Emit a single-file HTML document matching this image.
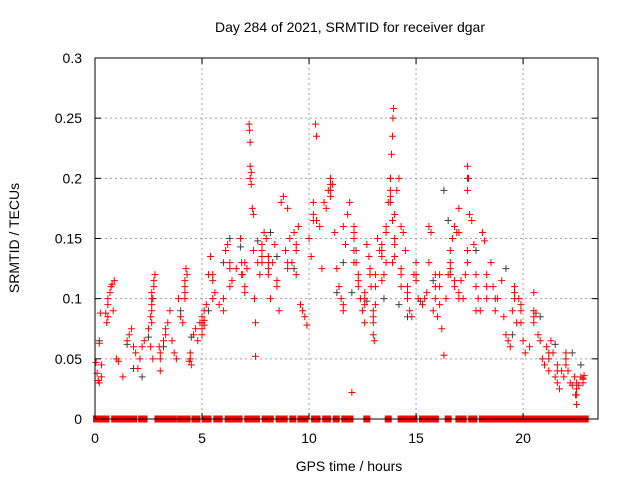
<!DOCTYPE html>
<html><head><meta charset="utf-8"><style>
body{margin:0;background:#fff;}
svg{display:block;font-family:"Liberation Sans",sans-serif;}
</style></head><body>
<svg id="chart" width="640" height="480">
<text x="350" y="32" font-size="14" text-anchor="middle">Day 284 of 2021, SRMTID for receiver dgar</text>
<text transform="translate(19,238) rotate(-90)" font-size="14" text-anchor="middle">SRMTID / TECUs</text>
<text x="349" y="471" font-size="14" text-anchor="middle">GPS time / hours</text>
<g id="grid"></g><g id="marks"></g><g id="axes"></g>
</svg>
<script>
const xTicks=[0,5,10,15,20];
const yTicks=[0,0.05,0.1,0.15,0.2,0.25,0.3];
const yTickLabels=["0","0.05","0.1","0.15","0.2","0.25","0.3"];
const zeroRunStarts=[0.07,0.92,2.18,2.94,4.0,4.3,4.67,5.15,5.69,6.22,7.14,7.95,8.6,9.24,9.62,10.26,10.78,11.27,11.67,12.7,13.7,14.3,15.3,16.5,17.0,17.2,17.6,18.1];
const zeroRunEnds=[0.51,1.80,2.29,3.66,4.0,4.3,4.76,5.28,5.8,6.73,7.54,8.19,8.84,9.24,9.81,10.37,10.86,11.27,11.91,12.7,13.7,14.9,15.9,16.5,17.0,17.2,17.7,22.9];
const redHours=[0.05,0.1,0.15,0.2,0.25,0.2,0.5,0.55,0.6,0.7,0.8,0.85,0.9,1.0,1.1,1.3,1.5,1.6,1.7,1.8,1.9,2.0,2.1,2.2,2.3,2.5,2.6,2.65,2.7,2.75,2.8,2.6,2.7,3.0,3.2,3.3,3.4,3.5,3.6,3.7,3.8,3.9,4.0,4.1,4.2,4.3,4.4,4.5,4.6,4.7,4.8,4.9,5.0,5.1,5.2,5.3,5.4,5.5,5.6,5.8,6.0,6.1,6.2,6.3,6.4,6.6,6.8,6.9,7.0,7.1,7.2,7.22,7.25,7.3,7.3,7.35,7.4,7.4,7.45,7.5,7.5,7.6,7.7,7.8,7.9,8.0,8.1,8.2,8.3,8.4,8.5,8.6,8.7,8.8,8.9,9.0,9.1,9.2,9.3,9.4,9.5,9.6,9.7,9.8,9.9,10.0,10.1,10.2,10.3,10.35,10.5,10.6,10.7,10.8,10.9,11.0,11.1,11.2,11.3,11.4,11.5,11.6,11.7,11.8,11.9,12.0,12.1,12.2,12.3,12.4,12.5,12.6,12.7,12.8,12.9,13.0,13.05,13.1,13.2,13.3,13.4,13.5,13.6,13.7,13.8,13.85,13.9,13.92,13.95,14.0,14.1,14.2,14.3,14.4,14.5,14.6,14.7,14.8,14.9,15.0,15.1,15.3,15.4,15.5,15.6,15.7,15.8,15.9,16.0,16.1,16.2,16.3,16.4,16.5,16.6,16.7,16.8,16.9,17.0,17.1,17.2,17.3,17.4,17.45,17.5,17.6,17.7,17.8,17.9,18.0,18.1,18.2,18.3,18.5,18.6,18.7,18.8,19.0,19.1,19.2,19.3,19.4,19.5,19.6,19.7,19.8,19.9,20.0,20.1,20.3,20.5,20.6,20.7,20.8,20.9,21.0,21.1,21.2,21.3,21.4,21.5,21.6,21.7,21.8,21.9,22.0,22.1,22.2,22.3,22.4,22.45,22.5,22.6,22.7,22.8,22.85,
0.3,0.3,0.6,0.6,0.75,2.65,2.65,2.65,2.65,2.75,3.05,3.05,3.05,3.3,4.2,4.2,4.2,4.25,4.45,4.45,5.0,5.0,5.0,5.1,5.1,5.5,5.5,6.0,6.3,6.3,6.85,6.85,7.25,7.25,7.0,7.0,7.8,7.8,7.8,8.1,8.1,8.1,8.5,9.0,9.0,9.4,9.4,10.2,10.2,10.35,11.0,11.0,11.0,11.6,11.6,12.1,12.1,12.1,12.1,12.3,12.3,12.6,12.6,12.6,12.85,12.85,13.0,13.0,13.0,13.1,13.1,13.4,13.4,13.4,13.6,13.6,13.8,13.8,13.8,13.8,13.9,13.9,14.0,14.0,14.0,14.3,14.3,14.3,14.6,14.6,15.0,15.0,15.6,15.9,15.9,16.1,16.1,16.6,16.6,16.6,16.8,16.8,17.0,17.0,17.0,17.4,17.4,17.4,17.8,17.8,18.3,18.3,19.6,19.6,19.9,19.9,20.5,20.5,20.5,21.2,21.2,21.6,21.6,22.0,22.0,22.5,22.5,22.5,22.8,22.8];
const redValues=[0.047,0.038,0.032,0.03,0.088,0.063,0.088,0.08,0.1,0.105,0.112,0.09,0.115,0.05,0.048,0.035,0.065,0.07,0.075,0.06,0.055,0.042,0.05,0.06,0.065,0.075,0.085,0.095,0.1,0.11,0.12,0.06,0.05,0.06,0.065,0.075,0.08,0.09,0.065,0.055,0.05,0.1,0.085,0.08,0.11,0.12,0.048,0.045,0.07,0.075,0.065,0.08,0.085,0.09,0.095,0.12,0.135,0.1,0.105,0.095,0.09,0.14,0.145,0.11,0.115,0.125,0.15,0.12,0.13,0.125,0.245,0.24,0.23,0.205,0.195,0.175,0.17,0.14,0.1,0.08,0.052,0.13,0.12,0.14,0.155,0.15,0.12,0.1,0.13,0.145,0.11,0.09,0.18,0.185,0.14,0.175,0.15,0.13,0.155,0.12,0.16,0.095,0.09,0.085,0.078,0.15,0.135,0.18,0.245,0.235,0.16,0.125,0.18,0.175,0.19,0.2,0.195,0.155,0.125,0.11,0.1,0.16,0.145,0.17,0.18,0.022,0.15,0.13,0.12,0.1,0.09,0.08,0.145,0.135,0.11,0.07,0.065,0.095,0.15,0.14,0.115,0.12,0.13,0.18,0.2,0.22,0.235,0.25,0.258,0.17,0.19,0.2,0.16,0.155,0.14,0.11,0.09,0.085,0.12,0.13,0.1,0.095,0.1,0.105,0.16,0.155,0.09,0.11,0.085,0.095,0.075,0.053,0.1,0.12,0.14,0.15,0.16,0.155,0.175,0.115,0.1,0.12,0.21,0.2,0.17,0.165,0.145,0.12,0.1,0.09,0.155,0.148,0.12,0.13,0.11,0.09,0.1,0.115,0.085,0.07,0.065,0.06,0.09,0.11,0.08,0.1,0.095,0.065,0.055,0.06,0.105,0.088,0.07,0.065,0.05,0.045,0.06,0.04,0.065,0.055,0.035,0.03,0.025,0.04,0.035,0.045,0.04,0.03,0.028,0.035,0.02,0.012,0.028,0.035,0.033,0.036,
0.035,0.045,0.085,0.095,0.11,0.08,0.09,0.1,0.105,0.115,0.05,0.055,0.04,0.07,0.1,0.105,0.115,0.125,0.05,0.055,0.075,0.08,0.07,0.078,0.082,0.115,0.12,0.1,0.125,0.13,0.12,0.13,0.2,0.21,0.105,0.11,0.13,0.135,0.145,0.13,0.125,0.135,0.115,0.125,0.13,0.14,0.145,0.165,0.17,0.165,0.19,0.195,0.185,0.09,0.095,0.155,0.16,0.14,0.13,0.11,0.115,0.095,0.1,0.105,0.12,0.125,0.08,0.085,0.09,0.11,0.12,0.135,0.14,0.145,0.155,0.16,0.185,0.19,0.18,0.2,0.165,0.13,0.145,0.15,0.135,0.11,0.12,0.125,0.1,0.105,0.115,0.12,0.13,0.1,0.12,0.11,0.12,0.12,0.125,0.13,0.11,0.115,0.105,0.1,0.155,0.19,0.14,0.13,0.09,0.11,0.11,0.1,0.1,0.105,0.09,0.08,0.09,0.085,0.08,0.05,0.055,0.045,0.04,0.05,0.055,0.02,0.025,0.03,0.03,0.034];
const darkHours=[0.2,1.5,1.8,2.2,2.5,3.2,4.0,4.5,5.3,6.0,6.3,6.8,7.6,8.2,8.5,9.3,11.3,11.6,12.0,12.2,12.7,13.5,14.2,14.6,15.2,15.8,16.3,16.5,17.4,17.8,18.7,19.2,19.5,20.8,21.5,22.3,22.7];
const darkValues=[0.065,0.062,0.042,0.035,0.068,0.06,0.09,0.068,0.09,0.13,0.15,0.143,0.148,0.155,0.135,0.125,0.105,0.13,0.105,0.14,0.098,0.1,0.095,0.085,0.098,0.115,0.19,0.165,0.2,0.14,0.1,0.125,0.07,0.085,0.062,0.055,0.045];

const L=95,R=598,T=58,B=419,XMAX=23.5,YMAX=0.3;
const xs=h=>L+(h/XMAX)*(R-L);
const ys=v=>B-(v/YMAX)*(B-T);
const NS="http://www.w3.org/2000/svg";
function mk(tag,attrs,parent){const e=document.createElementNS(NS,tag);for(const k in attrs)e.setAttribute(k,attrs[k]);parent.appendChild(e);return e;}
const grid=document.getElementById('grid'),marks=document.getElementById('marks'),axes=document.getElementById('axes');
xTicks.forEach(t=>{
  const x=xs(t);
  if(t>0){const g=mk('line',{x1:x,x2:x,y1:T,y2:B,stroke:'#a0a0a0','stroke-dasharray':'2,3'},grid);
  
  }
  mk('line',{x1:x,x2:x,y1:B,y2:B-6,stroke:'#000'},axes);
  mk('line',{x1:x,x2:x,y1:T,y2:T+6,stroke:'#000'},axes);
  const lb=mk('text',{x:x,y:B+24,'font-size':14,'text-anchor':'middle'},axes);lb.textContent=t;
  
  
});
yTicks.forEach((t,i)=>{
  const y=ys(t);
  if(t>0&&t<YMAX){const g=mk('line',{x1:L,x2:R,y1:y,y2:y,stroke:'#a0a0a0','stroke-dasharray':'2,3'},grid);
  
  }
  mk('line',{x1:L,x2:L+6,y1:y,y2:y,stroke:'#000'},axes);
  mk('line',{x1:R,x2:R-6,y1:y,y2:y,stroke:'#000'},axes);
  const lb=mk('text',{x:L-13,y:y+5,'font-size':14,'text-anchor':'end'},axes);lb.textContent=yTickLabels[i];
  
  
});
function plus(h,v,col,name){
  const x=xs(h),y=ys(v);
  const p=mk('path',{d:`M${x-3.5},${y}h7M${x},${y-3.5}v7`,stroke:col,'stroke-width':1,fill:'none'},marks);
  
  
}
darkHours.forEach((h,i)=>plus(h,darkValues[i],'#404040','dark-point'));
redHours.forEach((h,i)=>plus(h,redValues[i],'#ff0000','red-point'));
zeroRunStarts.forEach((s,i)=>{
  const x0=xs(s)-3.5,x1=xs(zeroRunEnds[i])+3.5,y=ys(0);
  const r=mk('rect',{x:x0,y:y-3.5,width:x1-x0,height:7,fill:'#ff0000'},marks);
  
  
});
const fr=mk('rect',{x:L,y:T,width:R-L,height:B-T,fill:'none',stroke:'#000'},axes);


</script>
</body></html>
